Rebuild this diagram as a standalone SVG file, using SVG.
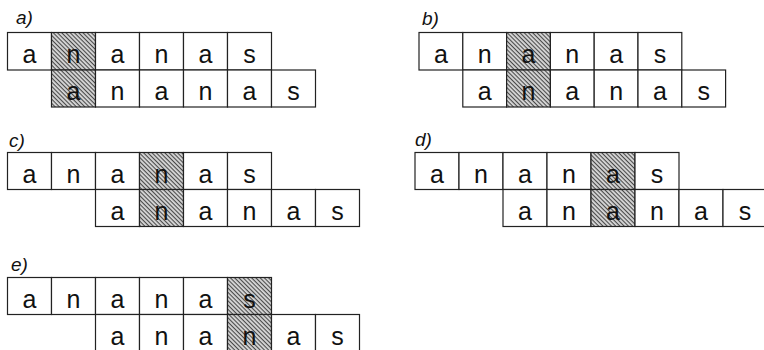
<svg xmlns="http://www.w3.org/2000/svg" width="764" height="350" viewBox="0 0 764 350">
<defs>
<pattern id="hatch" width="3" height="3" patternUnits="userSpaceOnUse" patternTransform="rotate(45)">
<rect width="3" height="3" fill="#d8d8d8"/>
<line x1="0" y1="0.6" x2="3" y2="0.6" stroke="#3a3a3a" stroke-width="1"/>
</pattern>
</defs>
<style>
.c{fill:#fff;stroke:#222;stroke-width:1.2}
.h{fill:url(#hatch);stroke:#222;stroke-width:1.2}
.t{font-family:"Liberation Sans",Arial,sans-serif;font-size:25px;text-anchor:middle;fill:#111}
.l{font-family:"Liberation Sans",Arial,sans-serif;font-size:19px;font-style:italic;fill:#111}
</style>
<rect width="764" height="350" fill="#fff"/>

<g id="panel-a">
<text class="l" x="16" y="24">a)</text>
<rect class="c" x="7.5" y="32.5" width="44" height="37.5"/>
<rect class="h" x="51.5" y="32.5" width="44" height="37.5"/>
<rect class="c" x="95.5" y="32.5" width="44" height="37.5"/>
<rect class="c" x="139.5" y="32.5" width="44" height="37.5"/>
<rect class="c" x="183.5" y="32.5" width="44" height="37.5"/>
<rect class="c" x="227.5" y="32.5" width="44" height="37.5"/>
<text class="t" x="29.5" y="62.5">a</text><text class="t" x="73.5" y="62.5">n</text><text class="t" x="117.5" y="62.5">a</text><text class="t" x="161.5" y="62.5">n</text><text class="t" x="205.5" y="62.5">a</text><text class="t" x="249.5" y="62.5">s</text>
<rect class="h" x="51.5" y="70" width="44" height="37"/>
<rect class="c" x="95.5" y="70" width="44" height="37"/>
<rect class="c" x="139.5" y="70" width="44" height="37"/>
<rect class="c" x="183.5" y="70" width="44" height="37"/>
<rect class="c" x="227.5" y="70" width="44" height="37"/>
<rect class="c" x="271.5" y="70" width="44" height="37"/>
<text class="t" x="73.5" y="100">a</text><text class="t" x="117.5" y="100">n</text><text class="t" x="161.5" y="100">a</text><text class="t" x="205.5" y="100">n</text><text class="t" x="249.5" y="100">a</text><text class="t" x="293.5" y="100">s</text>
</g>

<g id="panel-b">
<text class="l" x="422" y="25">b)</text>
<rect class="c" x="419" y="32.5" width="43.8" height="37.5"/>
<rect class="c" x="462.8" y="32.5" width="43.8" height="37.5"/>
<rect class="h" x="506.6" y="32.5" width="43.8" height="37.5"/>
<rect class="c" x="550.4" y="32.5" width="43.8" height="37.5"/>
<rect class="c" x="594.2" y="32.5" width="43.8" height="37.5"/>
<rect class="c" x="638" y="32.5" width="43.8" height="37.5"/>
<text class="t" x="440.9" y="62.5">a</text><text class="t" x="484.7" y="62.5">n</text><text class="t" x="528.5" y="62.5">a</text><text class="t" x="572.3" y="62.5">n</text><text class="t" x="616.1" y="62.5">a</text><text class="t" x="659.9" y="62.5">s</text>
<rect class="c" x="462.8" y="70" width="43.8" height="37"/>
<rect class="h" x="506.6" y="70" width="43.8" height="37"/>
<rect class="c" x="550.4" y="70" width="43.8" height="37"/>
<rect class="c" x="594.2" y="70" width="43.8" height="37"/>
<rect class="c" x="638" y="70" width="43.8" height="37"/>
<rect class="c" x="681.8" y="70" width="43.8" height="37"/>
<text class="t" x="484.7" y="100">a</text><text class="t" x="528.5" y="100">n</text><text class="t" x="572.3" y="100">a</text><text class="t" x="616.1" y="100">n</text><text class="t" x="659.9" y="100">a</text><text class="t" x="703.7" y="100">s</text>
</g>

<g id="panel-c">
<text class="l" x="9" y="146.5">c)</text>
<rect class="c" x="7.5" y="152.5" width="44" height="37"/>
<rect class="c" x="51.5" y="152.5" width="44" height="37"/>
<rect class="c" x="95.5" y="152.5" width="44" height="37"/>
<rect class="h" x="139.5" y="152.5" width="44" height="37"/>
<rect class="c" x="183.5" y="152.5" width="44" height="37"/>
<rect class="c" x="227.5" y="152.5" width="44" height="37"/>
<text class="t" x="29.5" y="182.5">a</text><text class="t" x="73.5" y="182.5">n</text><text class="t" x="117.5" y="182.5">a</text><text class="t" x="161.5" y="182.5">n</text><text class="t" x="205.5" y="182.5">a</text><text class="t" x="249.5" y="182.5">s</text>
<rect class="c" x="95.5" y="189.5" width="44" height="37"/>
<rect class="h" x="139.5" y="189.5" width="44" height="37"/>
<rect class="c" x="183.5" y="189.5" width="44" height="37"/>
<rect class="c" x="227.5" y="189.5" width="44" height="37"/>
<rect class="c" x="271.5" y="189.5" width="44" height="37"/>
<rect class="c" x="315.5" y="189.5" width="44" height="37"/>
<text class="t" x="117.5" y="219.5">a</text><text class="t" x="161.5" y="219.5">n</text><text class="t" x="205.5" y="219.5">a</text><text class="t" x="249.5" y="219.5">n</text><text class="t" x="293.5" y="219.5">a</text><text class="t" x="337.5" y="219.5">s</text>
</g>

<g id="panel-d">
<text class="l" x="415" y="146">d)</text>
<rect class="c" x="415" y="152.5" width="44" height="37"/>
<rect class="c" x="459" y="152.5" width="44" height="37"/>
<rect class="c" x="503" y="152.5" width="44" height="37"/>
<rect class="c" x="547" y="152.5" width="44" height="37"/>
<rect class="h" x="591" y="152.5" width="44" height="37"/>
<rect class="c" x="635" y="152.5" width="44" height="37"/>
<text class="t" x="437" y="182.5">a</text><text class="t" x="481" y="182.5">n</text><text class="t" x="525" y="182.5">a</text><text class="t" x="569" y="182.5">n</text><text class="t" x="613" y="182.5">a</text><text class="t" x="657" y="182.5">s</text>
<rect class="c" x="503" y="189.5" width="44" height="37"/>
<rect class="c" x="547" y="189.5" width="44" height="37"/>
<rect class="h" x="591" y="189.5" width="44" height="37"/>
<rect class="c" x="635" y="189.5" width="44" height="37"/>
<rect class="c" x="679" y="189.5" width="44" height="37"/>
<rect class="c" x="723" y="189.5" width="44" height="37"/>
<text class="t" x="525" y="219.5">a</text><text class="t" x="569" y="219.5">n</text><text class="t" x="613" y="219.5">a</text><text class="t" x="657" y="219.5">n</text><text class="t" x="701" y="219.5">a</text><text class="t" x="745" y="219.5">s</text>
</g>

<g id="panel-e">
<text class="l" x="11" y="271">e)</text>
<rect class="c" x="7.5" y="277.5" width="44" height="37"/>
<rect class="c" x="51.5" y="277.5" width="44" height="37"/>
<rect class="c" x="95.5" y="277.5" width="44" height="37"/>
<rect class="c" x="139.5" y="277.5" width="44" height="37"/>
<rect class="c" x="183.5" y="277.5" width="44" height="37"/>
<rect class="h" x="227.5" y="277.5" width="44" height="37"/>
<text class="t" x="29.5" y="307.5">a</text><text class="t" x="73.5" y="307.5">n</text><text class="t" x="117.5" y="307.5">a</text><text class="t" x="161.5" y="307.5">n</text><text class="t" x="205.5" y="307.5">a</text><text class="t" x="249.5" y="307.5">s</text>
<rect class="c" x="95.5" y="314.5" width="44" height="37"/>
<rect class="c" x="139.5" y="314.5" width="44" height="37"/>
<rect class="c" x="183.5" y="314.5" width="44" height="37"/>
<rect class="h" x="227.5" y="314.5" width="44" height="37"/>
<rect class="c" x="271.5" y="314.5" width="44" height="37"/>
<rect class="c" x="315.5" y="314.5" width="44" height="37"/>
<text class="t" x="117.5" y="344.5">a</text><text class="t" x="161.5" y="344.5">n</text><text class="t" x="205.5" y="344.5">a</text><text class="t" x="249.5" y="344.5">n</text><text class="t" x="293.5" y="344.5">a</text><text class="t" x="337.5" y="344.5">s</text>
</g>
<g id="connectors"/>
</svg>
